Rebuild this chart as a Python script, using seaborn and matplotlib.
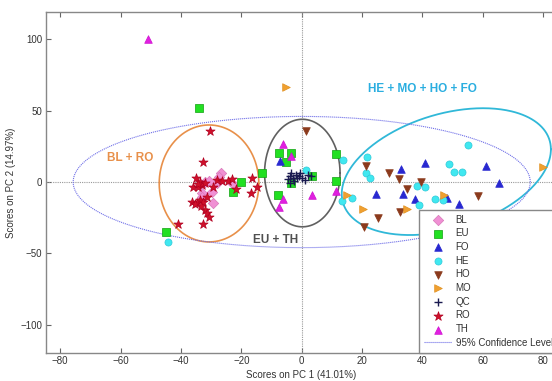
import numpy as np
import pandas as pd
import matplotlib
matplotlib.use("Agg")
import matplotlib.pyplot as plt
import seaborn as sns

# ---------------- data ----------------
BL_x = [-26.8, -27.3, -32.0, -28.1, -29.8, -33.1, -33.1, -29.5, -22.6, -30.6]
BL_y = [6.5, 3.7, 0.2, -0.9, -6.8, -7.9, -10.3, -14.9, -1.6, 0.9]

EU_x = [-33.9, -44.9, -20.0, -22.6, -13.0, -7.5, -3.7, -5.3, -3.6, 3.5, 11.2, 11.2, -8.0]
EU_y = [52.1, -34.8, 0.2, -6.8, 6.1, 20.1, 20.3, 14.0, -0.5, 4.4, 19.8, 1.0, -9.1]

FO_x = [-7.2, 32.8, 40.7, 61.0, 65.3, 24.5, 33.5, 37.5, 48.2, 52.1]
FO_y = [14.7, 8.9, 13.1, 11.3, -0.9, -8.5, -8.4, -11.9, -11.2, -15.2]

HE_x = [-44.4, 1.4, 13.7, 21.5, 21.3, 22.5, 55.2, 48.9, 50.4, 53.0, 38.1, 41.0,
        13.2, 16.6, 39.0, 44.0, 46.8]
HE_y = [-41.9, 8.1, 15.6, 17.3, 6.5, 2.8, 26.2, 12.6, 6.8, 7.3, -2.5, -3.5,
        -13.2, -11.5, -15.8, -12.0, -12.8]

HO_x = [1.4, 21.3, 29.0, 32.2, 39.5, 35.0, 32.6, 25.4, 20.5, 58.5]
HO_y = [36.0, 11.3, 6.1, 1.9, 0.2, -5.2, -20.8, -25.5, -31.5, -9.6]

MO_x = [-5.2, 79.8, 15.0, 20.2, 35.0, 47.0]
MO_y = [66.4, 10.3, -9.1, -19.0, -19.1, -8.8]

QC_x = [-4.5, -4.0, -3.5, -3.0, -2.5, -2.0, -1.5, -1.0, -0.5, 0.0, 1.0, 2.0, 3.0, -3.8]
QC_y = [2.0, 4.5, 6.0, 3.0, 0.5, 5.0, 2.5, 4.0, 6.5, 3.0, 1.5, 5.0, 4.5, -0.5]

RO_x = [-32.6, -30.4, -35.1, -36.1, -33.7, -33.1, -29.3, -28.1, -24.3, -21.8,
        -16.8, -16.6, -14.7, -36.4, -34.8, -33.7, -32.6, -35.3, -32.0, -31.5,
        -30.6, -32.6, -40.9, -34.2, -32.0, -26.5, -23.0, -34.5, -31.5, -33.5]
RO_y = [14.0, 36.0, 2.6, -3.7, 0.2, -2.1, -3.7, 1.4, 0.9, -5.1,
        -7.5, 2.6, -3.7, -13.8, -14.5, -12.6, -13.8, -15.4, -19.6, -22.0,
        -24.3, -29.5, -29.5, -3.3, -0.9, 1.0, 2.0, -1.5, -10.5, -16.5]

TH_x = [-51.0, -6.3, -3.5, -6.1, -7.6, 3.5, 11.2]
TH_y = [100.5, 26.5, 18.6, -11.9, -17.5, -9.1, -6.0]

groups = ["BL", "EU", "FO", "HE", "HO", "MO", "QC", "RO", "TH"]
xs = [BL_x, EU_x, FO_x, HE_x, HO_x, MO_x, QC_x, RO_x, TH_x]
ys = [BL_y, EU_y, FO_y, HE_y, HO_y, MO_y, QC_y, RO_y, TH_y]

# ellipses: (center x, center y, semi x, semi y)
ell_cl = (0.0, 0.0, 75.7, 46.0)
ell_blro = (-30.7, -1.0, 16.5, 41.0)
ell_euth = (0.2, 6.3, 12.5, 37.7)
# tilted ellipse as covariance-like matrix
ell_he_center = (47.9, 7.3)
ell_he_cov = [[1200.0, 540.0], [540.0, 1976.0]]

x_ticks = [-80, -60, -40, -20, 0, 20, 40, 60, 80]
y_ticks = [-100, -50, 0, 50, 100]

df = pd.DataFrame({
    "x": np.concatenate(xs),
    "y": np.concatenate(ys),
    "grp": np.concatenate([[g] * len(x) for g, x in zip(groups, xs)]),
})

# ---------------- style ----------------
sns.set_style("white")
plt.rcParams["font.family"] = ["Liberation Sans", "DejaVu Sans"]

fig = plt.figure(figsize=(5.52, 3.81), dpi=100)
ax = fig.add_axes([0.0828, 0.0745, 0.927, 0.8932])

styles = {
    "BL": dict(marker="D", color="#F090D4", ec="#D878B8", s=28),
    "EU": dict(marker="s", color="#22E022", ec="#10A010", s=28),
    "FO": dict(marker="^", color="#2828D0", ec="#2828D0", s=30),
    "HE": dict(marker="o", color="#40E8F0", ec="#30C8D8", s=26),
    "HO": dict(marker="v", color="#8B3A1C", ec="#8B3A1C", s=30),
    "MO": dict(marker=">", color="#F0A030", ec="#E09020", s=30),
    "QC": dict(marker="+", color="#1A1A50", ec=None, s=30),
    "RO": dict(marker="*", color="#D0102A", ec="#B00020", s=48),
    "TH": dict(marker="^", color="#E020E0", ec="#D010D0", s=30),
}

ax.axhline(0, color="#999999", ls=(0, (1, 1)), lw=0.8, zorder=1)
ax.axvline(0, color="#999999", ls=(0, (1, 1)), lw=0.8, zorder=1)

t = np.linspace(0, 2 * np.pi, 400)

def ell(c):
    cx, cy, a, b = c
    return cx + a * np.cos(t), cy + b * np.sin(t)

ex, ey = ell(ell_blro)
ax.plot(ex, ey, color="#E8904A", lw=1.2, zorder=2)
ex, ey = ell(ell_euth)
ax.plot(ex, ey, color="#606060", lw=1.2, zorder=2)
L = np.linalg.cholesky(np.array(ell_he_cov))
pts = L @ np.vstack([np.cos(t), np.sin(t)])
ax.plot(ell_he_center[0] + pts[0], ell_he_center[1] + pts[1], color="#30B8D8", lw=1.3, zorder=2)
ex, ey = ell(ell_cl)
cl_line, = ax.plot(ex, ey, color="#7070E8", lw=0.8, ls=(0, (1, 0.8)), zorder=2,
                   label="95% Confidence Level")

for g in groups:
    st = styles[g]
    sub = df[df.grp == g]
    if g == "QC":
        sns.scatterplot(data=sub, x="x", y="y", marker="+", color=st["color"],
                        s=st["s"], linewidth=1.0, ax=ax, label=g, zorder=3)
    else:
        sns.scatterplot(data=sub, x="x", y="y", marker=st["marker"], color=st["color"],
                        edgecolor=st["ec"], linewidth=0.5, s=st["s"], ax=ax, label=g,
                        zorder=3)

ax.text(-56.9, 16.8, "BL + RO", color="#E8904A", fontsize=8.5, fontweight="bold",
        ha="center", va="center")
ax.text(-8.8, -40.7, "EU + TH", color="#505050", fontsize=8.5, fontweight="bold",
        ha="center", va="center")
ax.text(39.9, 65.0, "HE + MO + HO + FO", color="#2AAEE0", fontsize=8.5,
        fontweight="bold", ha="center", va="center")

ax.set_xlim(-84.8, 84.7)
ax.set_ylim(-119.6, 119.0)
ax.set_xticks(x_ticks)
ax.set_yticks(y_ticks)
ax.tick_params(direction="in", length=3.5, width=0.8, color="#666666",
               labelsize=7, labelcolor="#333333", pad=2.5,
               top=True, bottom=True, left=True, right=False)
for s in ax.spines.values():
    s.set_color("#888888")
    s.set_linewidth(1.0)
ax.set_xlabel("Scores on PC 1 (41.01%)", fontsize=7, color="#333333", labelpad=3)
ax.set_ylabel("Scores on PC 2 (14.97%)", fontsize=7, color="#333333", labelpad=3)

h, lab = ax.get_legend_handles_labels()
order = groups + ["95% Confidence Level"]
hm = dict(zip(lab, h))
leg = ax.legend([hm[k] for k in order], order, loc="lower left",
                bbox_to_anchor=(0.73, 0.0), fontsize=7, frameon=True,
                fancybox=False, edgecolor="#888888", framealpha=1,
                borderpad=0.5, labelspacing=0.38, handlelength=2.9,
                handletextpad=0.35, borderaxespad=0.0, scatterpoints=1)
leg.get_frame().set_linewidth(1.0)
for txt in leg.get_texts():
    txt.set_color("#333333")

fig.savefig("out.png", dpi=100)
